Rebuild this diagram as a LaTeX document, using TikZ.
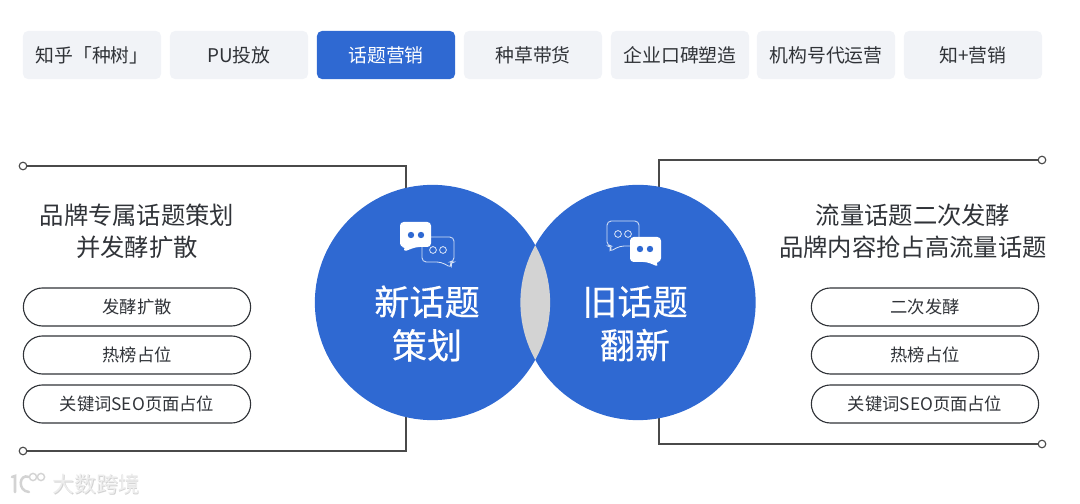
\documentclass[tikz,border=0pt]{standalone}
\usepackage{fontspec}
\setmainfont{Noto Sans CJK SC}
\newfontfamily\halbfett[FakeBold=0.35]{Noto Sans CJK SC}
\usetikzlibrary{positioning}
\definecolor{blau}{HTML}{2F69D2}
\definecolor{tabgrau}{HTML}{F1F3F7}
\definecolor{linie}{HTML}{4A4A4A}
\definecolor{tinte}{HTML}{303338}
\definecolor{linse}{HTML}{D3D3D3}
\tikzset{
  tab/.style={fill=tabgrau,rounded corners=3.5pt,minimum width=3.45cm,minimum height=1.2cm,inner sep=0pt,text=tinte,font=\fontsize{13.4}{15}\selectfont},
  tabakt/.style={tab,fill=blau,text=white},
  pille/.style={draw=tinte,line width=0.8pt,rounded corners=0.475cm,minimum width=5.68cm,minimum height=0.95cm,inner sep=0pt,text=tinte,font=\fontsize{12.3}{14}\selectfont},
  titel/.style={align=center,text=tinte,font=\fontsize{17.3}{23}\selectfont},
  kreis/.style={circle,fill=blau,minimum size=5.88cm,inner sep=0pt},
  kreistext/.style={align=center,text=white,font=\halbfett\fontsize{25}{31}\selectfont},
  punkt/.style={circle,draw=linie,fill=white,line width=0.8pt,minimum size=0.19cm,inner sep=0pt},
  rahmen/.style={linie,line width=0.9pt},
  blasew/.style={fill=white,rounded corners=2.6pt},
  blasel/.style={draw=white!80!blau,line width=0.6pt,rounded corners=3pt},
  aug/.style={blau},
  augl/.style={draw=white!80!blau,line width=0.6pt},
  logo/.style={linse,line cap=round},
  wasser/.style={font=\fontsize{15.5}{18}\selectfont},
}
\begin{document}
\begin{tikzpicture}[x=0.025cm,y=-0.025cm]
  \useasboundingbox (0,0) rectangle (1080,504);
  % --- Reiter ---
  \node[tab] (zhihu) at (92,55) {知乎「种树」};
  \node[tab] (pu) at (239,55) {PU投放};
  \node[tabakt] (huati) at (386,55) {话题营销};
  \node[tab] (zhongcao) at (533,55) {种草带货};
  \node[tab] (koubei) at (680,55) {企业口碑塑造};
  \node[tab] (jigou) at (826,55) {机构号代运营};
  \node[tab] (zhijia) at (973,55) {知+营销};
  % --- Rahmen ---
  \node[punkt] (lo) at (23,166) {};
  \node[punkt] (lu) at (23,451) {};
  \node[punkt] (ro) at (1042,160) {};
  \node[punkt] (ru) at (1042,444) {};
  \coordinate (lm) at (406,302);
  \coordinate (rm) at (659,302);
  \draw[rahmen] (lo) -| (lm);
  \draw[rahmen] (lu) -| (lm);
  \draw[rahmen] (ro) -| (rm);
  \draw[rahmen] (ru) -| (rm);
  % --- Kreise ---
  \node[kreis] (neu) at (432.5,302.5) {};
  \node[kreis] (alt) at (638,302.5) {};
  \begin{scope}
    \clip (432.5,302.5) circle (117.6);
    \fill[linse] (638,302.5) circle (117.6);
  \end{scope}
  \node[kreistext] (neutext) at (427,323.5) {新话题\\策划};
  \node[kreistext] (alttext) at (635,323.5) {旧话题\\翻新};
  % --- Symbol links ---
  \draw[blasel] (422,237)--(454,237)--(454,262)--(450,262)--(452,268)--(441,262)--(422,262)--cycle;
  \draw[augl] (433,250) circle (3.4);
  \draw[augl] (443,250) circle (3.4);
  \fill[blasew] (400,222)--(431,222)--(431,247)--(416,247)--(403,252)--(406,247)--(400,247)--cycle;
  \fill[aug] (411,235) circle (3.2);
  \fill[aug] (421,235) circle (3.2);
  % --- Symbol rechts ---
  \draw[blasel] (607,221)--(639,221)--(639,246)--(620,246)--(609,252)--(612,246)--(607,246)--cycle;
  \draw[augl] (618,234) circle (3.4);
  \draw[augl] (628,234) circle (3.4);
  \fill[blasew] (630,237)--(661,237)--(661,262)--(655,262)--(659,267)--(647,262)--(630,262)--cycle;
  \fill[aug] (640,249) circle (3.2);
  \fill[aug] (650,249) circle (3.2);
  % --- Texte links ---
  \node[titel] (titell) at (137,231.5) {品牌专属话题策划\\并发酵扩散};
  \node[pille] (p1) at (137,307) {\raisebox{-1pt}{发酵扩散}};
  \node[pille] (p2) at (137,355) {\raisebox{-1pt}{热榜占位}};
  \node[pille] (p3) at (137,404) {\raisebox{-1pt}{关键词SEO页面占位}};
  % --- Texte rechts ---
  \node[titel] (titelr) at (913,231.5) {流量话题二次发酵\\品牌内容抢占高流量话题};
  \node[pille] (q1) at (925,307) {\raisebox{-1pt}{二次发酵}};
  \node[pille] (q2) at (925,355) {\raisebox{-1pt}{热榜占位}};
  \node[pille] (q3) at (925,404) {\raisebox{-1pt}{关键词SEO页面占位}};
  % --- Wasserzeichen ---
  \draw[logo,line width=1.8pt] (12,477)--(15,476)--(15,492);
  \draw[logo,line width=1.8pt] (29,477) .. controls (19,473) and (17,491) .. (29,492);
  \draw[logo,line width=1pt] (33,477) circle (3.6);
  \draw[logo,line width=1pt] (41,477) circle (3.6);
  \node[wasser,text=linse] (wasserg) at (97.2,484.7) {大数跨境};
  \node[wasser,text=white!60!linse] (wasser) at (96.5,484) {大数跨境};
\end{tikzpicture}
\end{document}
